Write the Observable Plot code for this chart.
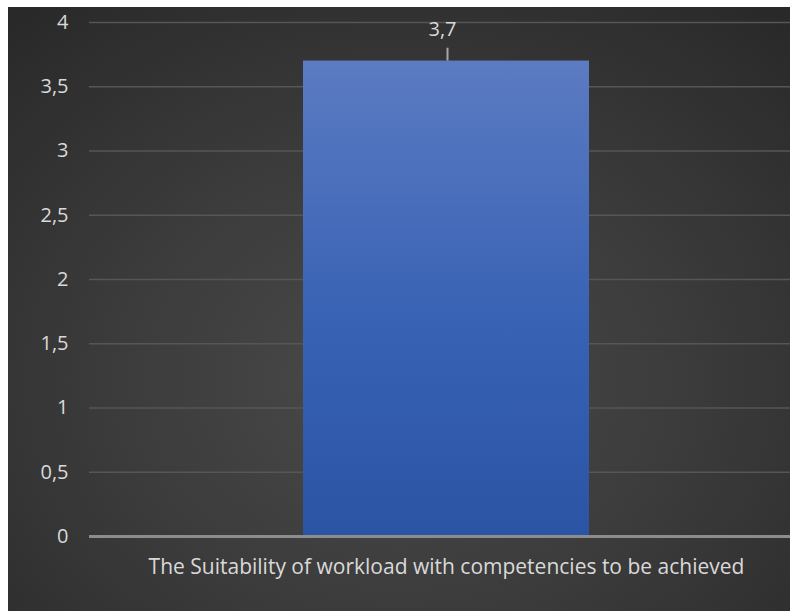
<!DOCTYPE html>
<html>
<head>
<meta charset="utf-8">
<script src="https://cdn.jsdelivr.net/npm/d3@7"></script>
<script src="https://cdn.jsdelivr.net/npm/@observablehq/plot@0.6"></script>
<style>
  html, body { margin: 0; padding: 0; background: #ffffff; }
  #chart { position: absolute; left: 8px; top: 7px; width: 782px; height: 604px; overflow: hidden; }
  #chart svg { display: block; }
</style>
</head>
<body>
<div id="chart"></div>
<script>
const categories = ["The Suitability of workload with competencies to be achieved"];
const values = [3.7];
const valueLabels = ["3,7"];
const yTicks = [0, 0.5, 1, 1.5, 2, 2.5, 3, 3.5, 4];
const yTickLabels = ["0", "0,5", "1", "1,5", "2", "2,5", "3", "3,5", "4"];

const data = categories.map((c, i) => ({category: c, value: values[i], label: valueLabels[i]}));

const W = 782, H = 604;
const fontFamily = "'Open Sans', 'Noto Sans', sans-serif";

const defs = () => {
  const svg = d3.create("svg:defs");
  const g = svg.append("linearGradient").attr("id", "barGrad").attr("x1", 0).attr("y1", 0).attr("x2", 0).attr("y2", 1);
  g.append("stop").attr("offset", "0%").attr("stop-color", "#5b7bc2");
  g.append("stop").attr("offset", "55%").attr("stop-color", "#3862b4");
  g.append("stop").attr("offset", "100%").attr("stop-color", "#2b54a5");
  return svg.node();
};

const chart = Plot.plot({
  width: W,
  height: H,
  marginLeft: 81,
  marginRight: 0,
  marginTop: 15,
  marginBottom: 75,
  style: {
    background: "radial-gradient(ellipse 75% 80% at 50% 62%, #4a4a4a 0%, #3b3b3b 50%, #292929 100%)",
    fontFamily,
    color: "#d9d9d9",
    overflow: "hidden"
  },
  x: {domain: categories, range: [81, 795], padding: 0.428, label: null},
  y: {domain: [0, 4], label: null},
  marks: [
    defs,
    Plot.ruleY(yTicks.filter(d => d > 0), {stroke: "#565656", strokeWidth: 1.5}),
    Plot.axisY({ticks: yTicks, tickSize: 0, tickPadding: 21, fontSize: 20, fill: "#d9d9d9",
      tickFormat: d => yTickLabels[yTicks.indexOf(d)], label: null}),
    Plot.barY(data, {x: "category", y: "value", fill: "url(#barGrad)"}),
    Plot.ruleY([0], {stroke: "#8c8c8c", strokeWidth: 3}),
    Plot.axisX({tickSize: 0, tickPadding: 23, fontSize: 21, fill: "#d9d9d9", label: null}),
    Plot.ruleX(data, {x: "category", y1: "value", y2: d => d.value + 0.1, stroke: "#a6a6a6", strokeWidth: 2, dx: 1}),
    Plot.text(data, {x: "category", y: "value", text: "label", dy: -31, dx: -4, fontSize: 20, fill: "#d9d9d9"})
  ]
});
document.getElementById("chart").appendChild(chart);
</script>
</body>
</html>
